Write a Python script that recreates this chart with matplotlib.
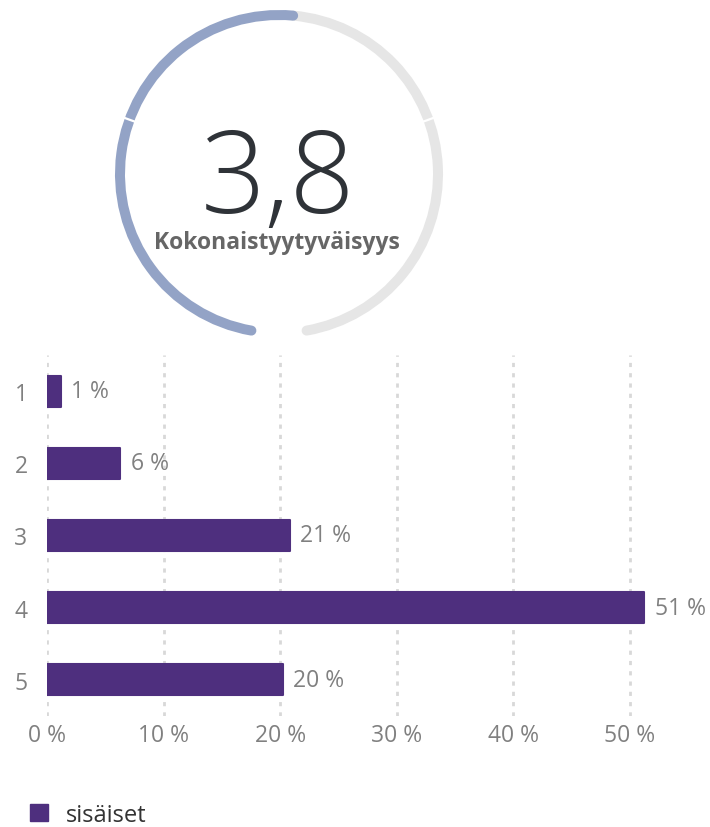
import numpy as np
import matplotlib.pyplot as plt
from matplotlib.patches import Arc, Patch

plt.rcParams['font.family'] = ['Open Sans', 'DejaVu Sans']

# values
categories = ['1', '2', '3', '4', '5']
shares = [1.2, 6.3, 20.8, 51.2, 20.2]
series_name = 'sisäiset'
score = '3,8'
score_label = 'Kokonaistyytyväisyys'
gauge_fill = 0.515            # filled part of the ring
gauge_notches = [0.294, 0.706]  # white notches in the ring
xticks = [0, 10, 20, 30, 40, 50]

bar_color = '#4e2f7e'
fill_color = '#93a3c6'
track_color = '#e6e6e6'
tick_color = '#808080'

W, H = 710, 828
fig = plt.figure(figsize=(W / 100, H / 100), dpi=100)

# gauge, in figure pixel coords (y up)
g = fig.add_axes([0, 0, 1, 1])
g.set_xlim(0, W)
g.set_ylim(0, H)
g.axis('off')

cx, cy, r = 279, H - 175, 159
start, sweep = 260, 340
end_fill = start - gauge_fill * sweep

g.add_patch(Arc((cx, cy), 2 * r, 2 * r, theta1=start - sweep, theta2=end_fill,
                lw=7.2, color=track_color, capstyle='round'))
g.add_patch(Arc((cx, cy), 2 * r, 2 * r, theta1=end_fill, theta2=start,
                lw=7.2, color=fill_color, capstyle='round'))
for n in gauge_notches:
    a = np.deg2rad(start - n * sweep)
    g.plot([cx + (r - 9) * np.cos(a), cx + (r + 9) * np.cos(a)],
           [cy + (r - 9) * np.sin(a), cy + (r + 9) * np.sin(a)],
           color='white', lw=1.6, solid_capstyle='butt')

g.text(cx - 1, H - 213, score, ha='center', va='baseline', fontsize=82,
       fontweight='light', color='#2f3338')
g.text(cx - 2, H - 249, score_label, ha='center', va='baseline', fontsize=16.5,
       fontweight='bold', color='#666666')

# bars
ax = fig.add_axes([47 / W, 1 - 717 / H, (700 - 47) / W, 361 / H])
y = np.arange(len(categories))
ax.barh(y, shares, height=0.43, color=bar_color, edgecolor=bar_color,
        lw=1.5, joinstyle='round', zorder=3)
for yi, v in zip(y, shares):
    ax.text(v + 0.9, yi, f'{round(v)} %', va='center', ha='left',
            fontsize=16.5, color=tick_color)

ax.set_xlim(0, 56)
ax.set_ylim(len(categories) - 0.5, -0.5)
ax.set_yticks(y)
ax.set_yticklabels(categories)
ax.set_xticks(xticks)
ax.set_xticklabels([f'{t} %' for t in xticks])
ax.tick_params(axis='both', length=0, labelsize=16.5, labelcolor=tick_color)
ax.tick_params(axis='y', pad=14)
ax.tick_params(axis='x', pad=5)
ax.grid(axis='x', color='#d8d8d8', lw=2, linestyle=(0, (1.5, 2.2)), zorder=0)
ax.set_axisbelow(True)
for s in ax.spines.values():
    s.set_visible(False)

fig.legend(handles=[Patch(facecolor=bar_color, edgecolor=bar_color,
                          joinstyle='round', label=series_name)],
           loc='lower left', bbox_to_anchor=(30 / W, 0), frameon=False,
           fontsize=17, handlelength=0.75, handleheight=0.75,
           handletextpad=0.76, borderpad=0, borderaxespad=0,
           labelcolor='#333333')

fig.savefig('out.png', dpi=100)
